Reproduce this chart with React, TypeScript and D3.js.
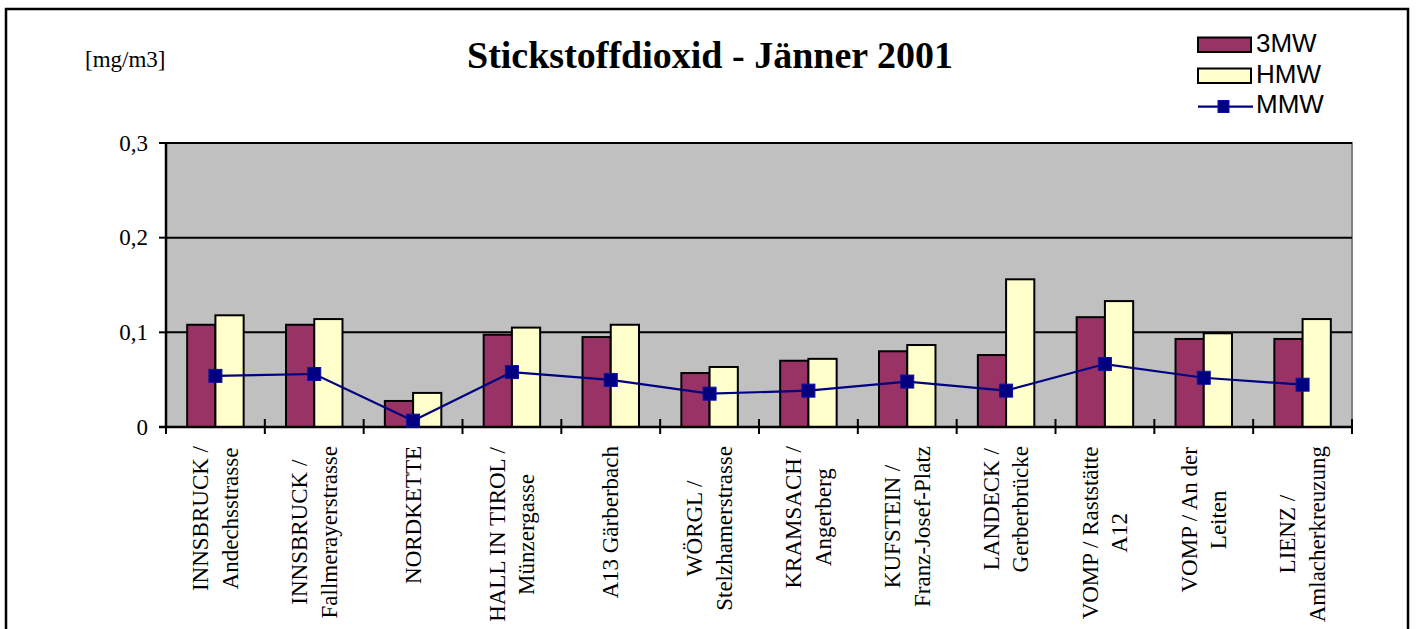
import React from "react";
import * as d3 from "d3";

const categories: string[][] = [
  ["INNSBRUCK /", "Andechsstrasse"],
  ["INNSBRUCK /", "Fallmerayerstrasse"],
  ["NORDKETTE"],
  ["HALL IN TIROL /", "Münzergasse"],
  ["A13 Gärberbach"],
  ["WÖRGL /", "Stelzhamerstrasse"],
  ["KRAMSACH /", "Angerberg"],
  ["KUFSTEIN /", "Franz-Josef-Platz"],
  ["LANDECK /", "Gerberbrücke"],
  ["VOMP / Raststätte", "A12"],
  ["VOMP / An der", "Leiten"],
  ["LIENZ /", "Amlacherkreuzung"],
];
const values3MW = [0.108, 0.108, 0.0275, 0.0975, 0.095, 0.057, 0.07, 0.08, 0.076, 0.116, 0.093, 0.093];
const valuesHMW = [0.118, 0.114, 0.036, 0.105, 0.108, 0.0634, 0.072, 0.0866, 0.156, 0.133, 0.099, 0.114];
const valuesMMW = [0.054, 0.056, 0.0067, 0.058, 0.0497, 0.0352, 0.0384, 0.048, 0.0384, 0.0665, 0.052, 0.0447];
const yTicks = [0, 0.1, 0.2, 0.3];
const seriesNames = ["3MW", "HMW", "MMW"];
const title = "Stickstoffdioxid - Jänner 2001";
const unit = "[mg/m3]";

const W = 1416;
const H = 629;
const plot = { left: 166, right: 1352, top: 143, bottom: 427 };
const C3 = "#993366";
const CH = "#FFFFCC";
const CM = "#000080";
const SERIF = "'Liberation Serif', 'Times New Roman', serif";
const SANS = "'Liberation Sans', Arial, sans-serif";
const LABEL_SIZE = 23;

let ctx: CanvasRenderingContext2D | null = null;
function measure(t: string): number {
  if (!ctx) {
    const c = document.createElement("canvas");
    ctx = c.getContext("2d");
  }
  if (!ctx) return t.length * 10;
  ctx.font = `${LABEL_SIZE}px ${SERIF}`;
  return ctx.measureText(t).width;
}

export default function App() {
  const idx = categories.map((_, i) => i);
  const x = d3.scaleBand<number>().domain(idx).range([plot.left, plot.right]).padding(0);
  const y = d3.scaleLinear().domain([0, 0.3]).range([plot.bottom, plot.top]);
  const step = x.step();
  const bw = step / 3.5;
  const off = (step - 2 * bw) / 2;
  const line = d3
    .line<number>()
    .x((_, i) => (x(i) as number) + step / 2)
    .y((d) => y(d));
  const fmt = (v: number) => d3.format(".1f")(v).replace(".", ",").replace(/^0,0$/, "0");
  const boundaries = d3.range(categories.length + 1).map((i) => plot.left + i * step);

  return (
    <svg
      width={W}
      height={H}
      style={{ position: "absolute", left: 0, top: 0, background: "#fff" }}
    >
      <rect x={0} y={0} width={W} height={H} fill="#fff" />
      <rect x={6} y={9} width={1402} height={720} fill="none" stroke="#000" strokeWidth={2.5} />

      <text x={710} y={67.5} textAnchor="middle" fontFamily={SERIF} fontWeight="bold" fontSize={38}>
        {title}
      </text>
      <text x={85} y={67} fontFamily={SERIF} fontSize={23}>
        {unit}
      </text>

      {/* plot area */}
      <rect
        x={plot.left}
        y={plot.top}
        width={plot.right - plot.left}
        height={plot.bottom - plot.top}
        fill="#C0C0C0"
        stroke="#808080"
        strokeWidth={2}
      />
      {yTicks.slice(1).map((t) => (
        <line key={t} x1={plot.left} x2={plot.right} y1={y(t)} y2={y(t)} stroke="#000" strokeWidth={2} />
      ))}

      {/* bars */}
      {values3MW.map((v, i) => (
        <rect
          key={"a" + i}
          x={(x(i) as number) + off}
          y={y(v)}
          width={bw}
          height={plot.bottom - y(v)}
          fill={C3}
          stroke="#000"
          strokeWidth={2}
        />
      ))}
      {valuesHMW.map((v, i) => (
        <rect
          key={"b" + i}
          x={(x(i) as number) + off + bw}
          y={y(v)}
          width={bw}
          height={plot.bottom - y(v)}
          fill={CH}
          stroke="#000"
          strokeWidth={2}
        />
      ))}

      {/* axes */}
      <line x1={plot.left} x2={plot.left} y1={plot.top} y2={plot.bottom} stroke="#000" strokeWidth={2.5} />
      <line x1={plot.left - 7} x2={plot.right} y1={plot.bottom} y2={plot.bottom} stroke="#000" strokeWidth={2.5} />
      {yTicks.map((t) => (
        <g key={"yt" + t}>
          <line x1={plot.left - 7} x2={plot.left} y1={y(t)} y2={y(t)} stroke="#000" strokeWidth={2} />
          <text
            x={148}
            y={y(t)}
            textAnchor="end"
            dominantBaseline="central"
            fontFamily={SERIF}
            fontSize={23}
          >
            {fmt(t)}
          </text>
        </g>
      ))}
      {boundaries.map((bx, i) => (
        <line key={"xt" + i} x1={bx} x2={bx} y1={plot.bottom - 8} y2={plot.bottom + 7} stroke="#000" strokeWidth={2} />
      ))}

      {/* MMW line */}
      <path d={line(valuesMMW) || ""} fill="none" stroke={CM} strokeWidth={2.2} />
      {valuesMMW.map((v, i) => (
        <rect
          key={"m" + i}
          x={(x(i) as number) + step / 2 - 6.5}
          y={y(v) - 6.5}
          width={13}
          height={13}
          fill={CM}
          stroke="#1010A0"
          strokeWidth={1}
        />
      ))}

      {/* category labels */}
      {categories.map((lines, i) => {
        const cx = (x(i) as number) + step / 2;
        const maxW = Math.max(...lines.map(measure));
        const cy = 446 + maxW / 2;
        return (
          <g key={"lab" + i}>
            {lines.map((ln, j) => {
              const lx = cx + (j - (lines.length - 1) / 2) * 29.5;
              return (
                <text
                  key={j}
                  transform={`translate(${lx},${cy}) rotate(-90)`}
                  textAnchor="middle"
                  dominantBaseline="central"
                  fontFamily={SERIF}
                  fontSize={LABEL_SIZE}
                >
                  {ln}
                </text>
              );
            })}
          </g>
        );
      })}

      {/* legend */}
      <rect x={1198} y={37.5} width={53} height={14.5} fill={C3} stroke="#000" strokeWidth={2} />
      <text x={1256} y={52} fontFamily={SANS} fontSize={26}>
        {seriesNames[0]}
      </text>
      <rect x={1198} y={68.5} width={53} height={14.5} fill={CH} stroke="#000" strokeWidth={2} />
      <text x={1256} y={83} fontFamily={SANS} fontSize={26}>
        {seriesNames[1]}
      </text>
      <line x1={1198} x2={1253} y1={106.7} y2={106.7} stroke={CM} strokeWidth={2.2} />
      <rect x={1218} y={100.5} width={11} height={12} fill={CM} stroke="#1010A0" strokeWidth={1} />
      <text x={1256} y={113} fontFamily={SANS} fontSize={26}>
        {seriesNames[2]}
      </text>
    </svg>
  );
}
